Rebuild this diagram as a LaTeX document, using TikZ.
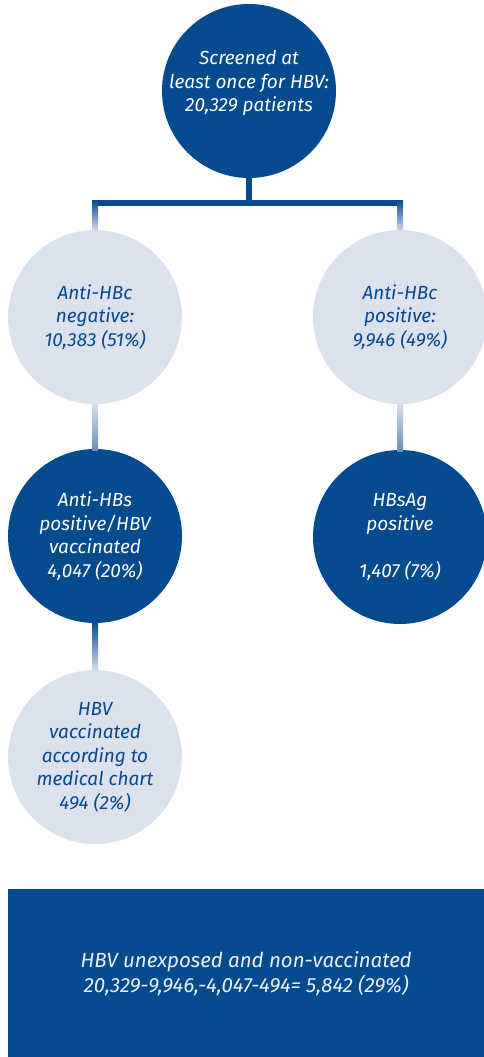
\documentclass[tikz,border=0pt]{standalone}
\usepackage{fontspec}
\setmainfont{Fira Sans}
\usetikzlibrary{calc}
\definecolor{dblue}{RGB}{3,74,143}
\definecolor{lblue}{RGB}{220,225,238}
\begin{document}
\begin{tikzpicture}[x=1pt,y=-1pt,
  circ/.style={circle,minimum size=174pt,inner sep=0pt,align=center,
    font=\fontsize{19}{23.5}\selectfont\itshape},
  darkc/.style={circ,fill=dblue,text=white},
  lightc/.style={circ,fill=lblue,text=dblue},
  txt/.style={align=center,font=\fontsize{19}{23.5}\selectfont\itshape}]
\useasboundingbox (0,0) rectangle (484,1057);
\node[darkc] (n1) at (249,91) {};
\node[txt,text=white] (t1) at (249,83) {Screened at\\least once for HBV:\\20,329 patients};
\node[lightc] (n2) at (95,317) {Anti-HBc\\negative:\\10,383 (51\%)};
\node[lightc] (n3) at (400,317) {Anti-HBc\\positive:\\9,946 (49\%)};
\node[darkc] (n4) at (95,536) {Anti-HBs\\positive/HBV\\vaccinated\\4,047 (20\%)};
\node[darkc] (n5) at (400,537) {HBsAg\\positive\\[23.5pt]1,407 (7\%)};
\node[lightc] (n6) at (95,757) {HBV\\vaccinated\\according to\\medical chart\\494 (2\%)};
\node[fill=dblue,text=white!92!dblue,minimum width=476pt,minimum height=168pt,inner sep=0pt,anchor=north west,
  align=center,font=\fontsize{20.5}{25}\selectfont\itshape] (n7) at (8,889) {HBV unexposed and non-vaccinated\\20,329-9,946,-4,047-494= 5,842 (29\%)};
% tree
\coordinate (bar) at (249,203);
\draw[dblue,line width=6pt] (n1.south) -- (bar);
\draw[dblue,line width=6pt] ($(n2.north|-bar)+(-3,0)$) -- ($(n3.north|-bar)+(3,0)$);
\shade[top color=dblue,bottom color=lblue] ($(n2.north|-bar)+(-3,-3)$) rectangle ($(n2.north)+(3,2)$);
\shade[top color=dblue,bottom color=lblue] ($(n3.north|-bar)+(-3,-3)$) rectangle ($(n3.north)+(3,2)$);
\shade[top color=lblue,middle color=dblue,bottom color=dblue!55!lblue] ($(n2.south)+(-3,-2)$) rectangle ($(n4.north)+(3,2)$);
\shade[top color=lblue,middle color=dblue,bottom color=dblue!55!lblue] ($(n3.south)+(-3,-2)$) rectangle ($(n5.north)+(3,2)$);
\shade[top color=dblue,middle color=lblue!80!dblue,bottom color=lblue] ($(n4.south)+(-3,-2)$) rectangle ($(n6.north)+(3,2)$);
\end{tikzpicture}
\end{document}
